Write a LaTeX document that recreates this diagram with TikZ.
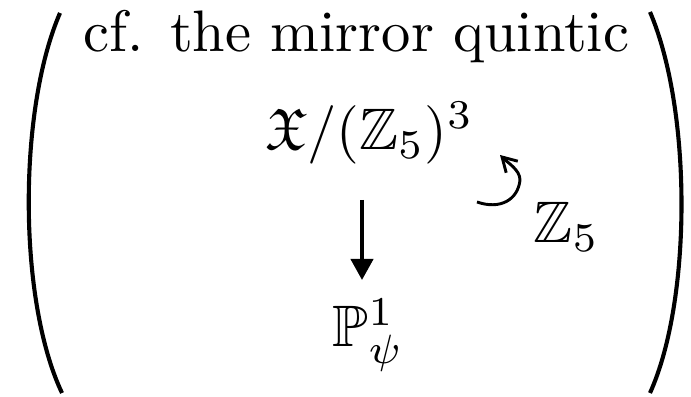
\documentclass[tikz,border=0pt]{standalone}
\usepackage{amssymb}
\usetikzlibrary{arrows.meta}
\begin{document}
\begin{tikzpicture}[x=0.1709pt,y=-0.1709pt,
  lbl/.style={anchor=base,inner sep=0pt},
  paren/.style={line width=0.7pt},
  maparrow/.style={line width=0.63pt,-{Triangle[length=3.6pt,width=3.8pt]}},
  actarrow/.style={line width=0.5pt,-{Straight Barb[length=2.4pt,width=2.8pt]}}]
\useasboundingbox (0,0) rectangle (691,397);
% parentheses
\draw[paren] (60,13) .. controls (18,110) and (18,300) .. (62,393);
\draw[paren] (650,12) .. controls (692,110) and (692,300) .. (650,393);
% texts
\node[lbl] (cf) at (356.5,52) {cf. the mirror quintic};
\node[lbl] (X) at (369.5,150) {$\mathfrak{X}/(\mathbb{Z}_5)^3$};
\node[lbl] (Z) at (566.5,243) {$\mathbb{Z}_5$};
\node[lbl] (P) at (368.5,347) {$\mathbb{P}^1_\psi$};
% vertical map
\coordinate (a1) at (362,200);
\coordinate (a2) at (362,280);
\draw[maparrow] (a1) -- (a2);
% group action arrow
\coordinate (b1) at (477,202);
\coordinate (b2) at (500,155);
\draw[actarrow] (b1) .. controls (500,210) and (518,200) .. (520,180)
  .. controls (520,170) and (508,163) .. (b2);
\end{tikzpicture}
\end{document}
